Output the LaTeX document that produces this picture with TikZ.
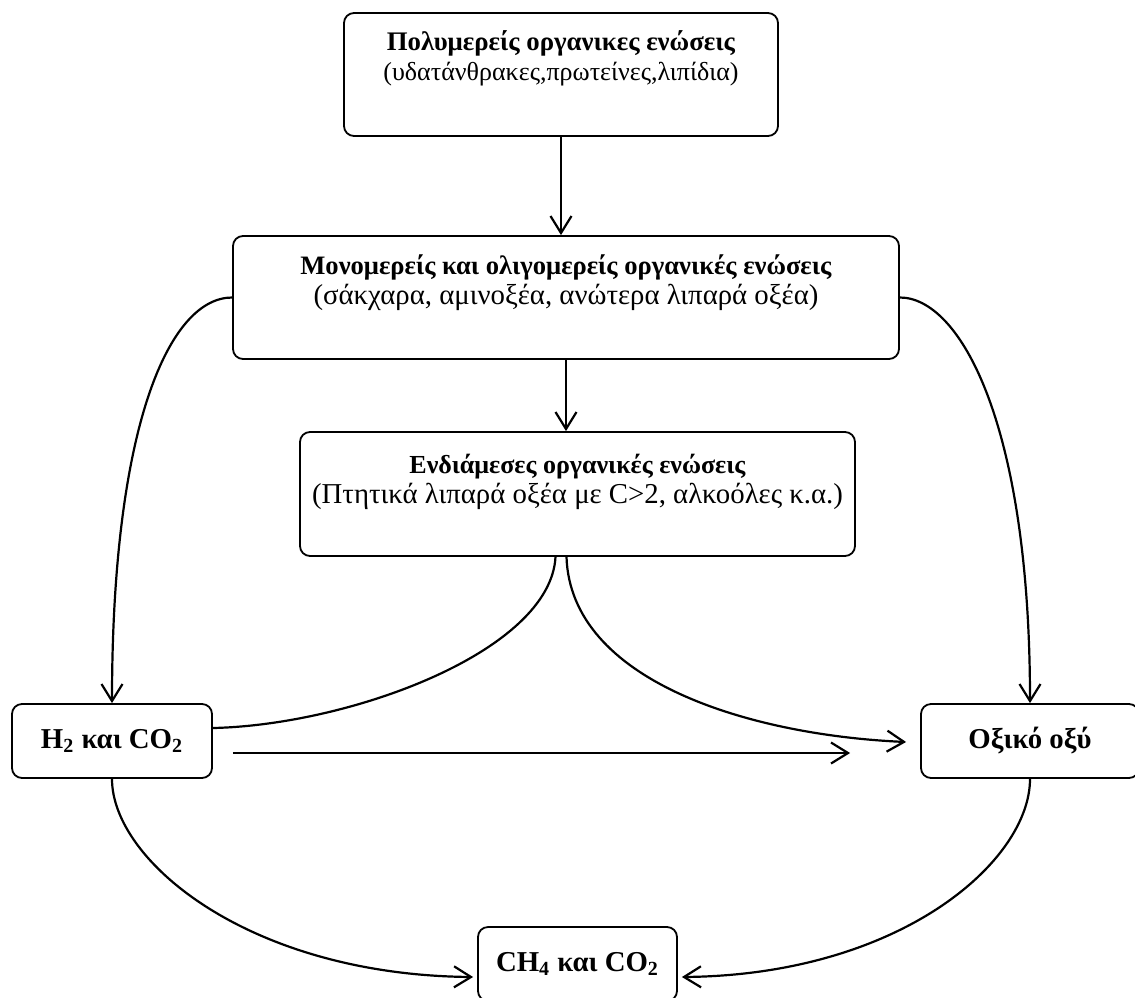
\documentclass[tikz,border=0pt]{standalone}
\usepackage{fontspec}
\setmainfont{Liberation Serif}
\usetikzlibrary{arrows.meta,calc}

\begin{document}
\begin{tikzpicture}[x=0.5pt, y=-0.5pt,
    box/.style={draw, rounded corners=5pt, line width=0.9pt},
    txt/.style={align=center, font=\fontsize{13}{15}\selectfont},
    big/.style={font=\fontsize{14.4}{16}\selectfont\bfseries},
    arr/.style={-{Straight Barb[length=8.5pt,width=10.5pt]}, line width=1.1pt}]
  \useasboundingbox (0,0) rectangle (1135,997);

  % Κουτιά
  \node[box, minimum width=217pt, minimum height=61.5pt] (poly) at (561,74.5) {};
  \node[box, minimum width=333pt, minimum height=61.5pt] (mono) at (566,297.5) {};
  \node[box, minimum width=277.5pt, minimum height=62pt] (inter) at (577.5,494) {};
  \node[box, big, minimum width=100pt, minimum height=37pt] (h2) at (112,741) {H\textsubscript{2} και CO\textsubscript{2}};
  \node[box, big, minimum width=109pt, minimum height=37pt] (oxy) at (1030,741) {Οξικό οξύ};
  \node[box, big, minimum width=99.5pt, minimum height=37pt] (ch4) at (577.5,964) {CH\textsubscript{4} και CO\textsubscript{2}};

  % Κείμενα
  \node[txt] (polytxt) at ($(poly)+(0,-16)$) {\textbf{\fontsize{13.4}{15}\selectfont Πολυμερείς οργανικες ενώσεις}\\(υδατάνθρακες,πρωτείνες,λιπίδια)};
  \node[txt] (monotxt) at ($(mono)+(0,-15)$) {\textbf{\fontsize{13.3}{15}\selectfont Μονομερείς και ολιγομερείς οργανικές ενώσεις}\\{\fontsize{14.4}{15}\selectfont (σάκχαρα, αμινοξέα, ανώτερα λιπαρά οξέα)}};
  \node[txt] (intertxt) at ($(inter)+(0,-12)$) {\textbf{Ενδιάμεσες οργανικές ενώσεις}\\{\fontsize{14.4}{15}\selectfont (Πτητικά λιπαρά οξέα με C>2, αλκοόλες κ.α.)}};

  % Βέλη
  \draw[arr] (poly.south) -- (poly.south |- mono.north);
  \draw[arr] (mono.south) -- (mono.south |- inter.north);
  \draw[arr] (mono.west) .. controls +(-62,0) and +(0,-280) .. (h2.north);
  \draw[arr] (mono.east) .. controls +(60,0) and +(0,-280) .. (oxy.north);
  \draw[line width=1.1pt] ($(inter.south)+(-22,0)$) .. controls +(-5,94) and +(138,-3) .. ($(h2.east)+(0,-13)$);
  \draw[arr] ($(inter.south)+(-11,0)$) .. controls +(4,124) and +(-157,-7) .. ($(oxy.west)+(-14,1)$);
  \draw[arr] ($(h2.east)+(20,12)$) -- ($(oxy.west)+(-70,12)$);
  \draw[arr] (h2.south) .. controls +(0,82) and +(-224,-2) .. ($(ch4.west)+(-4,13)$);
  \draw[arr] (oxy.south) .. controls +(0,82) and +(219,-2) .. ($(ch4.east)+(4,13)$);
\end{tikzpicture}
\end{document}
